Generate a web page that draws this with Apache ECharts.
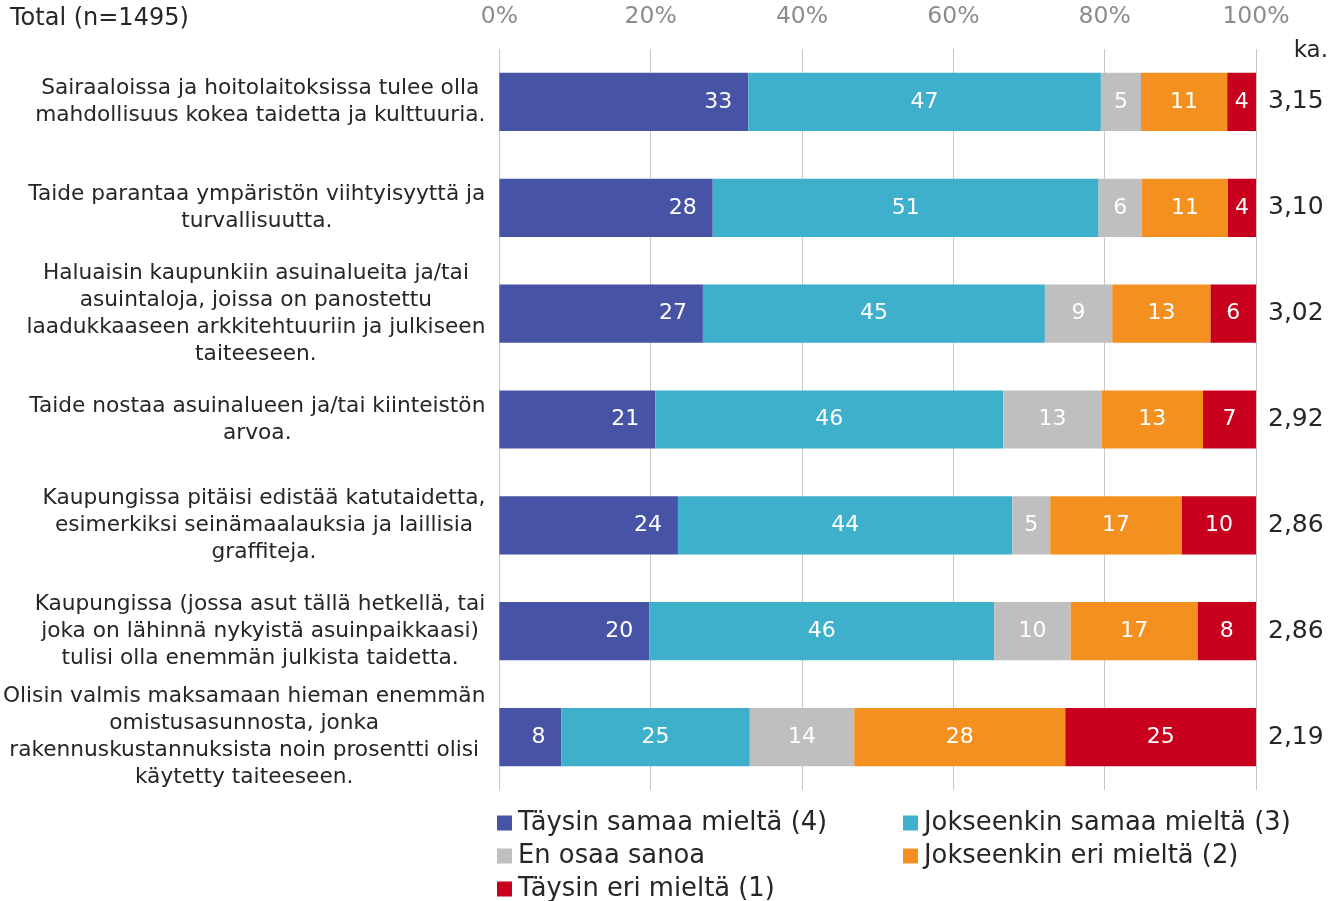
<!DOCTYPE html>
<html>
<head>
<meta charset="utf-8">
<title>Taide kaupungissa</title>
<script src="https://cdn.jsdelivr.net/npm/echarts@6/dist/echarts.min.js"></script>
<style>
  html, body { margin: 0; padding: 0; background: #fff; }
  #main { width: 1331px; height: 901px; }
</style>
</head>
<body>
<div id="main"></div>
<script>
// väittämät (ylhäältä alas)
var categories = [
	'Sairaaloissa ja hoitolaitoksissa tulee olla\nmahdollisuus kokea taidetta ja kulttuuria.',
	'Taide parantaa ympäristön viihtyisyyttä ja\nturvallisuutta.',
	'Haluaisin kaupunkiin asuinalueita ja/tai\nasuintaloja, joissa on panostettu\nlaadukkaaseen arkkitehtuuriin ja julkiseen\ntaiteeseen.',
	'Taide nostaa asuinalueen ja/tai kiinteistön\narvoa.',
	'Kaupungissa pitäisi edistää katutaidetta,\nesimerkiksi seinämaalauksia ja laillisia\ngraffiteja.',
	'Kaupungissa (jossa asut tällä hetkellä, tai\njoka on lähinnä nykyistä asuinpaikkaasi)\ntulisi olla enemmän julkista taidetta.',
	'Olisin valmis maksamaan hieman enemmän\nomistusasunnosta, jonka\nrakennuskustannuksista noin prosentti olisi\nkäytetty taiteeseen.'
];
var seriesNames = ['Täysin samaa mieltä (4)', 'Jokseenkin samaa mieltä (3)', 'En osaa sanoa', 'Jokseenkin eri mieltä (2)', 'Täysin eri mieltä (1)'];
var taysinSamaa = [32.9, 28.2, 26.9, 20.6, 23.6, 19.8, 8.2];
var jokseenkinSamaa = [46.6, 51.0, 45.2, 46.0, 44.2, 45.6, 24.9];
var enOsaa = [5.3, 5.7, 8.9, 13.0, 5.0, 10.1, 13.8];
var jokseenkinEri = [11.4, 11.4, 13.0, 13.4, 17.4, 16.8, 27.9];
var taysinEri = [3.8, 3.7, 6.0, 7.0, 9.8, 7.7, 25.2];
var keskiarvot = ['3,15', '3,10', '3,02', '2,92', '2,86', '2,86', '2,19'];
var xTicks = [0, 20, 40, 60, 80, 100];

var colors = ['#4753a5', '#3fb0cc', '#bfbfbf', '#f39020', '#c8001e'];
var FONT = 'DejaVu Sans';

var myChart = echarts.init(document.getElementById('main'));

function makeSeries(name, data, idx) {
	return {
		name: name,
		type: 'bar',
		stack: 'total',
		barCategoryGap: '45%',
		data: data,
		itemStyle: { color: colors[idx] },
		label: {
			show: true,
			position: idx == 0 ? 'insideRight' : 'inside',
			distance: 16,
			color: '#fff',
			fontFamily: FONT,
			fontSize: 22,
			formatter: function(p) { return Math.round(p.value); }
		}
	};
}

// selite kahteen sarakkeeseen: [sarja, vasen, ylä]
var legendPos = [[0, 497, 810], [1, 903, 810], [2, 497, 843], [3, 903, 843], [4, 497, 876]];
var legends = legendPos.map(function(l) {
	return {
		left: l[1], top: l[2], padding: 0,
		itemWidth: 15, itemHeight: 15,
		icon: 'rect',
		data: [seriesNames[l[0]]],
		textStyle: { fontFamily: FONT, fontSize: 25.8, color: '#262626', padding: [0, 0, 0, 1] }
	};
});

var option = {
	animation: false,
	color: colors,
	grid: { left: 499, right: 75, top: 49, bottom: 111, containLabel: false },
	graphic: [
		{ type: 'text', left: 10, top: 7, style: { text: 'Total (n=1495)', font: '24px ' + FONT, fill: '#262626' } },
		{ type: 'text', right: 3, top: 40, style: { text: 'ka.', font: '23px ' + FONT, fill: '#262626' } }
	],
	legend: legends,
	xAxis: {
		type: 'value',
		position: 'top',
		min: xTicks[0], max: xTicks[xTicks.length - 1], interval: 20,
		axisLine: { show: false },
		axisTick: { show: false },
		axisLabel: { formatter: '{value}%', color: '#8c8c8c', fontFamily: FONT, fontSize: 23.5, margin: 20 },
		splitLine: { show: true, lineStyle: { color: '#c8c8c8', width: 1 } }
	},
	yAxis: [{
		type: 'category',
		inverse: true,
		data: categories,
		axisLine: { show: false },
		axisTick: { show: false },
		axisLabel: {
			align: 'right',
			margin: 14,
			interval: 0,
			color: '#262626',
			fontFamily: FONT,
			fontSize: 21.7,
			lineHeight: 27,
			formatter: function(v) {
				return v.split('\n').map(function(s) { return '{c|' + s + '}'; }).join('\n');
			},
			rich: { c: { align: 'center', fontFamily: FONT, fontSize: 21.7, lineHeight: 27, color: '#262626' } }
		}
	}, {
		type: 'category',
		inverse: true,
		position: 'right',
		data: keskiarvot,
		axisLine: { show: false },
		axisTick: { show: false },
		axisLabel: { margin: 12, color: '#262626', fontFamily: FONT, fontSize: 25 }
	}],
	series: [
		makeSeries(seriesNames[0], taysinSamaa, 0),
		makeSeries(seriesNames[1], jokseenkinSamaa, 1),
		makeSeries(seriesNames[2], enOsaa, 2),
		makeSeries(seriesNames[3], jokseenkinEri, 3),
		makeSeries(seriesNames[4], taysinEri, 4)
	]
};
myChart.setOption(option);
</script>
</body>
</html>
